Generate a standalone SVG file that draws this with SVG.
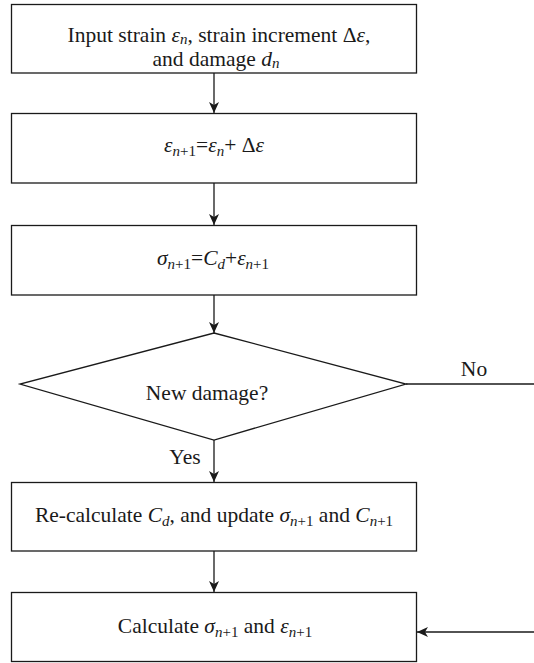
<svg xmlns="http://www.w3.org/2000/svg" width="534" height="663" viewBox="0 0 534 663">
<defs>
<marker id="ah" markerWidth="12" markerHeight="10" refX="11" refY="5" orient="auto" markerUnits="userSpaceOnUse">
<path d="M0,0 L11,5 L0,10 L3,5 Z" fill="#1a1a1a"/>
</marker>
<style>
.box{fill:#fff;stroke:#1a1a1a;stroke-width:1.3}
.ln{fill:none;stroke:#1a1a1a;stroke-width:1.3}
text{font-family:"Liberation Serif","Times New Roman",serif;font-size:21.5px;fill:#1a1a1a}
.c{text-anchor:middle}
.i{font-style:italic}
.s{font-size:15px;font-style:italic}
.su{font-size:15px}
</style>
</defs>
<g id="connectors">
<line class="ln" x1="214" y1="73" x2="214" y2="113" marker-end="url(#ah)"/>
<line class="ln" x1="214" y1="183" x2="214" y2="225" marker-end="url(#ah)"/>
<line class="ln" x1="214" y1="295" x2="214" y2="333" marker-end="url(#ah)"/>
<line class="ln" x1="214" y1="440" x2="214" y2="482" marker-end="url(#ah)"/>
<line class="ln" x1="214" y1="551" x2="214" y2="592" marker-end="url(#ah)"/>
<line class="ln" x1="406" y1="384" x2="534" y2="384"/>
<line class="ln" x1="534" y1="632" x2="417" y2="632" marker-end="url(#ah)"/>
<text x="474" y="376" class="c">No</text>
<text x="185" y="464" class="c">Yes</text>
</g>
<g id="n1">
<rect class="box" x="11.5" y="4.5" width="405" height="68.5"/>
<text x="219" y="42" class="c">Input strain <tspan class="i">ε</tspan><tspan class="s" dy="2">n</tspan><tspan dy="-2">, strain increment Δ</tspan><tspan class="i">ε</tspan>,</text>
<text x="216" y="66" class="c">and damage <tspan class="i">d</tspan><tspan class="s" dy="2">n</tspan></text>
</g>
<g id="n2">
<rect class="box" x="11.5" y="113.5" width="405" height="69.5"/>
<text x="214" y="152" class="c"><tspan class="i">ε</tspan><tspan class="s" dy="4">n</tspan><tspan class="su">+1</tspan><tspan dy="-4">=</tspan><tspan class="i">ε</tspan><tspan class="s" dy="4">n</tspan><tspan dy="-4">+ Δ</tspan><tspan class="i">ε</tspan></text>
</g>
<g id="n3">
<rect class="box" x="11.5" y="225.5" width="405" height="69.5"/>
<text x="213" y="265" class="c"><tspan class="i">σ</tspan><tspan class="s" dy="4">n</tspan><tspan class="su">+1</tspan><tspan dy="-4">=</tspan><tspan class="i">C</tspan><tspan class="s" dy="4">d</tspan><tspan dy="-4">+</tspan><tspan class="i">ε</tspan><tspan class="s" dy="4">n</tspan><tspan class="su">+1</tspan></text>
</g>
<g id="n4">
<polygon class="box" points="214,333 406,384 214,440 20,384"/>
<text x="207" y="400" class="c">New damage?</text>
</g>
<g id="n5">
<rect class="box" x="11.5" y="482.5" width="405" height="68.5"/>
<text x="214" y="522" class="c">Re-calculate <tspan class="i">C</tspan><tspan class="s" dy="4">d</tspan><tspan dy="-4">, and update </tspan><tspan class="i">σ</tspan><tspan class="s" dy="4">n</tspan><tspan class="su">+1</tspan><tspan dy="-4"> and </tspan><tspan class="i">C</tspan><tspan class="s" dy="4">n</tspan><tspan class="su">+1</tspan></text>
</g>
<g id="n6">
<rect class="box" x="11.5" y="592.5" width="405" height="69"/>
<text x="215" y="633" class="c">Calculate <tspan class="i">σ</tspan><tspan class="s" dy="4">n</tspan><tspan class="su">+1</tspan><tspan dy="-4"> and </tspan><tspan class="i">ε</tspan><tspan class="s" dy="4">n</tspan><tspan class="su">+1</tspan></text>
</g>
</svg>
